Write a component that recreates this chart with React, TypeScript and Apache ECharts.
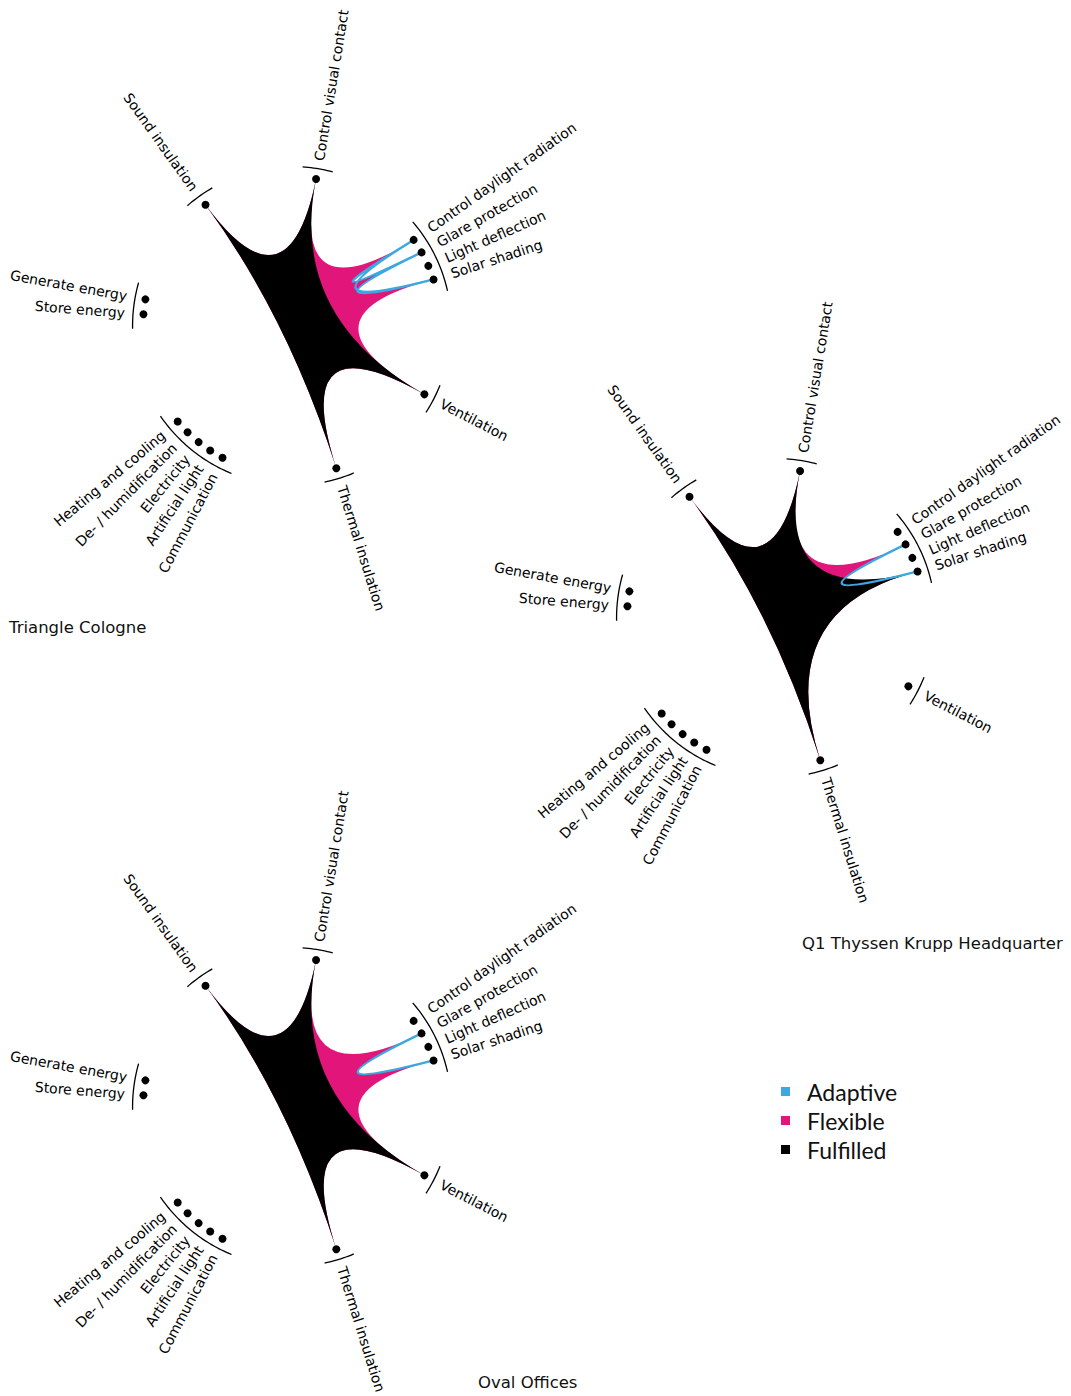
import React, { useEffect, useRef } from 'react';
import * as echarts from 'echarts';

// ---- data ----
const axisNames = [
  'Control visual contact',
  'Control daylight radiation',
  'Glare protection',
  'Light deflection',
  'Solar shading',
  'Ventilation',
  'Thermal insulation',
  'Communication',
  'Artificial light',
  'Electricity',
  'De- / humidification',
  'Heating and cooling',
  'Store energy',
  'Generate energy',
  'Sound insulation',
];
// compass angle of each axis (degrees, clockwise from top)
const axisAngles = [9.3, 54.7, 60.4, 66.2, 71.8, 117.3, 162.7, 207.8, 213.3, 218.8, 224.5, 230.1, 274.5, 280.3, 324.5];
const tickGroups = [[0], [1, 2, 3, 4], [5], [6], [7, 8, 9, 10, 11], [12, 13], [14]];

const buildingNames = ['Triangle Cologne', 'Q1 Thyssen Krupp Headquarter', 'Oval Offices'];

const triangleFulfilled = [1, 0, 0, 0, 0, 1, 1, 0, 0, 0, 0, 0, 0, 0, 1];
const triangleFlexible = [1, 1, 1, 0, 1, 1, 1, 0, 0, 0, 0, 0, 0, 0, 1];
const triangleAdaptive = [0, 1, 1, 0, 1, 0, 0, 0, 0, 0, 0, 0, 0, 0, 0];

const q1Fulfilled = [1, 0, 0, 0, 1, 0, 1, 0, 0, 0, 0, 0, 0, 0, 1];
const q1Flexible = [1, 0, 1, 0, 1, 0, 1, 0, 0, 0, 0, 0, 0, 0, 1];
const q1Adaptive = [0, 0, 1, 0, 1, 0, 0, 0, 0, 0, 0, 0, 0, 0, 0];

const ovalFulfilled = [1, 0, 0, 0, 0, 1, 1, 0, 0, 0, 0, 0, 0, 0, 1];
const ovalFlexible = [1, 0, 1, 0, 1, 1, 1, 0, 0, 0, 0, 0, 0, 0, 1];
const ovalAdaptive = [0, 0, 1, 0, 1, 0, 0, 0, 0, 0, 0, 0, 0, 0, 0];

const layerNames = ['Adaptive', 'Flexible', 'Fulfilled'];

// ---- layout / style ----
const polarCenters = [
  [292, 326],
  [776, 618],
  [292, 1107],
];
const titlePos = [
  [9, 619],
  [802, 935],
  [478, 1374],
];
const DOT_PX = 149;
const R_MAX = 1.5;
const TICK_R = 1.07;
const LABEL_R = 1.125;
const CTRL = [0.066, 336];
const BLUE = '#3ba8e0';
const PINK = '#e2157b';
const BLACK = '#000000';
const layerColors = [BLUE, PINK, BLACK];
const FONT = 'DejaVu Sans';

function curvePath(pts: number[][], c: number[]) {
  let d = `M${pts[0][0]},${pts[0][1]}`;
  for (let i = 1; i <= pts.length; i++) {
    const p = pts[i % pts.length];
    d += ` Q${c[0]},${c[1]} ${p[0]},${p[1]}`;
  }
  return d + ' Z';
}

function activeVerts(levels: number[]) {
  const v: number[][] = [];
  levels.forEach((lv, i) => {
    if (lv > 0) v.push([lv, axisAngles[i]]);
  });
  return v;
}

function shapeSeries(name: string, levels: number[], polarIndex: number, z: number, mode: 'fill' | 'stroke', color: string) {
  const verts = activeVerts(levels);
  return {
    type: 'custom',
    name,
    coordinateSystem: 'polar',
    polarIndex,
    z,
    silent: true,
    itemStyle: { color },
    data: verts,
    renderItem: (params: any, api: any) => {
      if (params.dataIndex !== 0) return { type: 'group', children: [] };
      const pts = verts.map((v) => api.coord(v));
      const c = api.coord(CTRL);
      const pathData = curvePath(pts, c);
      return {
        type: 'path',
        shape: { pathData },
        style:
          mode === 'fill'
            ? { fill: color, stroke: 'none', lineWidth: 0 }
            : { fill: 'none', stroke: color, lineWidth: 2.4, lineJoin: 'round' },
      };
    },
  };
}

function tickSeries(polarIndex: number) {
  return {
    type: 'custom',
    coordinateSystem: 'polar',
    polarIndex,
    z: 4,
    silent: true,
    data: tickGroups.map((g) => [TICK_R, axisAngles[g[0]] - 5.5, axisAngles[g[g.length - 1]] + 5.5]),
    renderItem: (params: any, api: any) => {
      const r = api.value(0);
      const a1 = api.value(1);
      const a2 = api.value(2);
      const pts: number[][] = [];
      const steps = Math.max(4, Math.ceil(a2 - a1));
      for (let k = 0; k <= steps; k++) {
        pts.push(api.coord([r, a1 + ((a2 - a1) * k) / steps]));
      }
      return {
        type: 'polyline',
        shape: { points: pts },
        style: { fill: 'none', stroke: '#000', lineWidth: 1.3 },
      };
    },
  };
}

function labelSeries(polarIndex: number) {
  return {
    type: 'custom',
    coordinateSystem: 'polar',
    polarIndex,
    z: 4,
    silent: true,
    data: axisAngles.map((a, i) => [LABEL_R, a, i]),
    renderItem: (params: any, api: any) => {
      const r = api.value(0);
      const a = api.value(1);
      const idx = api.value(2);
      const p = api.coord([r, a]);
      const right = a < 180;
      const rotDeg = right ? 90 - a : 270 - a;
      return {
        type: 'text',
        x: p[0],
        y: p[1],
        rotation: (rotDeg * Math.PI) / 180,
        style: {
          text: axisNames[idx],
          x: 0,
          y: 0,
          fill: '#000',
          fontSize: 14,
          fontFamily: FONT,
          align: right ? 'left' : 'right',
          verticalAlign: 'middle',
        },
      };
    },
  };
}

function dotSeries(polarIndex: number) {
  return {
    type: 'scatter',
    coordinateSystem: 'polar',
    polarIndex,
    z: 5,
    silent: true,
    symbolSize: 8,
    itemStyle: { color: '#000', opacity: 1 },
    data: axisAngles.map((a) => [1, a]),
  };
}

export default function App() {
  const ref = useRef<HTMLDivElement>(null);
  useEffect(() => {
    if (!ref.current) return;
    const chart = echarts.init(ref.current, undefined, { renderer: 'svg' });
    const levelSets = [
      [triangleAdaptive, triangleFlexible, triangleFulfilled],
      [q1Adaptive, q1Flexible, q1Fulfilled],
      [ovalAdaptive, ovalFlexible, ovalFulfilled],
    ];
    const series: any[] = [];
    levelSets.forEach((sets, d) => {
      series.push(shapeSeries(layerNames[1], sets[1], d, 1, 'fill', PINK));
      series.push(shapeSeries(layerNames[2], sets[2], d, 2, 'fill', BLACK));
      series.push(shapeSeries(layerNames[0], sets[0], d, 3, 'stroke', BLUE));
      series.push(dotSeries(d));
      series.push(tickSeries(d));
      series.push(labelSeries(d));
    });
    const option: any = {
      animation: false,
      backgroundColor: '#ffffff',
      title: buildingNames.map((t, i) => ({
        text: t,
        left: titlePos[i][0],
        top: titlePos[i][1],
        padding: 0,
        textStyle: { fontFamily: FONT, fontSize: 16.5, fontWeight: 'normal', color: '#111' },
      })),
      legend: {
        orient: 'vertical',
        left: 781,
        top: 1080,
        padding: 0,
        selectedMode: false,
        icon: 'rect',
        itemWidth: 9,
        itemHeight: 9,
        itemGap: 6,
        data: layerNames.map((n, i) => ({ name: n, itemStyle: { color: layerColors[i] } })),
        textStyle: { fontFamily: 'Lato', fontSize: 23, color: '#111', padding: [0, 0, 0, 12] },
      },
      polar: polarCenters.map((c) => ({ center: [c[0], c[1]], radius: DOT_PX * R_MAX })),
      angleAxis: polarCenters.map((_, i) => ({
        polarIndex: i,
        type: 'value',
        min: 0,
        max: 360,
        startAngle: 90,
        clockwise: true,
        show: false,
      })),
      radiusAxis: polarCenters.map((_, i) => ({
        polarIndex: i,
        type: 'value',
        min: 0,
        max: R_MAX,
        show: false,
      })),
      series,
    };
    chart.setOption(option);
    return () => chart.dispose();
  }, []);
  return (
    <div
      ref={ref}
      style={{ position: 'absolute', left: 0, top: 0, width: 1071, height: 1396, background: '#fff' }}
    />
  );
}
